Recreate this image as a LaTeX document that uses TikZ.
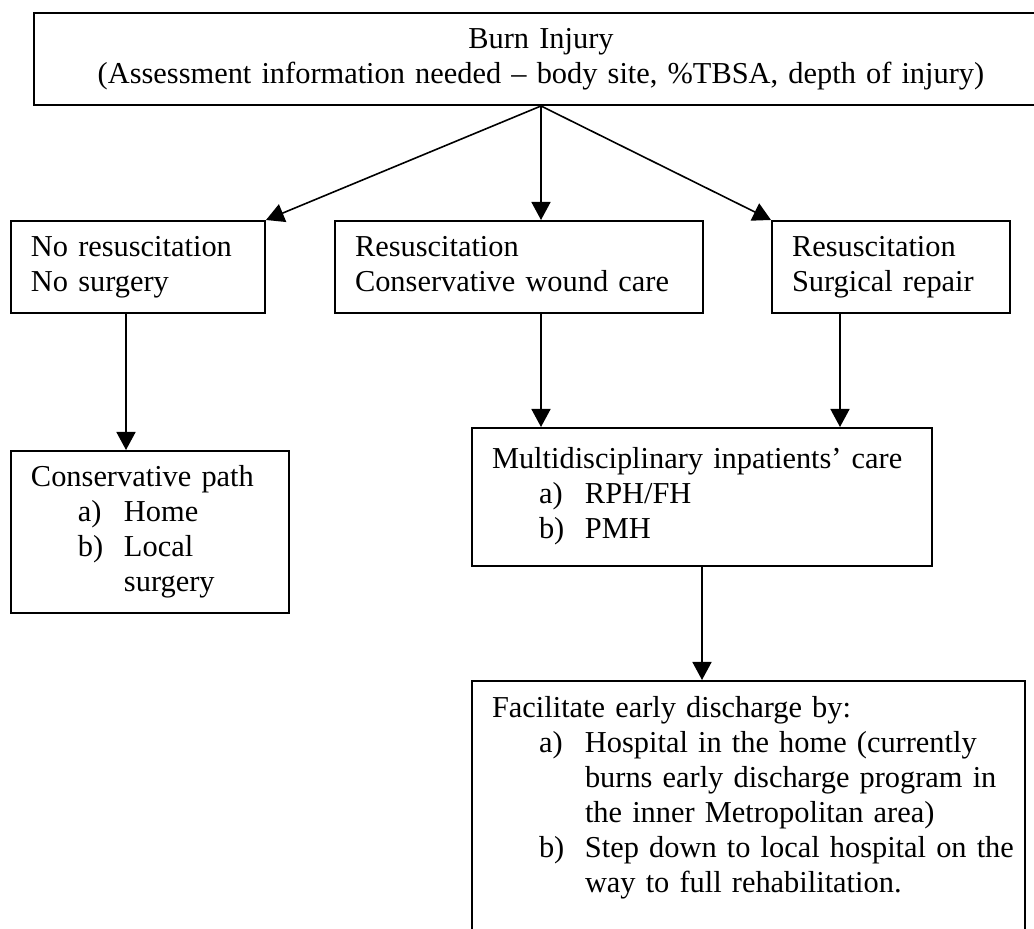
\documentclass[tikz,border=0pt]{standalone}
\usepackage{fontspec}
\setmainfont{Liberation Serif}
\usetikzlibrary{arrows.meta,positioning}

% list label and hanging indent inside the boxes
\newcommand{\lbl}[1]{\hspace*{23.5pt}\makebox[23pt][l]{#1}}
\newcommand{\cnt}{\hspace*{46.5pt}}

\begin{document}
\begin{tikzpicture}[x=0.5pt, y=-0.5pt, >={Triangle[length=9pt,width=9.5pt]},
  box/.style={draw, line width=1pt, anchor=north west, inner xsep=10pt, inner ysep=0pt,
    align=left, font=\fontsize{15.2pt}{17.5pt}\selectfont,
    execute at begin node={\strut\frenchspacing}, execute at end node=\strut},
  link/.style={->, line width=0.8pt}]

  \useasboundingbox (0,0) rectangle (1034,929);

  % === Top box ===
  \node[box, align=center, text width=487pt, minimum height=46pt] (burn) at (33,12)
    {Burn Injury\\(Assessment information needed – body site, \%TBSA, depth of injury)};

  % === Second row ===
  \node[box, text width=107pt, minimum height=46pt] (nores) at (10,220)
    {No resuscitation\\No surgery};
  \node[box, text width=164pt, minimum height=46pt] (cons) at (334,220)
    {Resuscitation\\Conservative wound care};
  \node[box, text width=99pt, minimum height=46pt] (surg) at (771,220)
    {Resuscitation\\Surgical repair};

  % === Third row ===
  \node[box, text width=119pt, minimum height=81pt] (conspath) at (10,450)
    {Conservative path\\\lbl{a)}Home\\\lbl{b)}Local\\\cnt surgery};
  \node[box, text width=210pt, minimum height=69pt] (multi) at (471,427)
    {Multidisciplinary inpatients’ care\\\lbl{a)}RPH/FH\\\lbl{b)}PMH};

  % === Bottom box (runs off the page) ===
  \node[box, text width=256.5pt, inner ysep=6.25pt, text depth=125pt] (disch) at (471,680)
    {Facilitate early discharge by:\\
     \lbl{a)}\mbox{Hospital in the home (currently}\\
     \cnt\mbox{burns early discharge program in}\\
     \cnt\mbox{the inner Metropolitan area)}\\
     \lbl{b)}\mbox{Step down to local hospital on the}\\
     \cnt\mbox{way to full rehabilitation.}};

  % === Arrows ===
  \coordinate (nsdrop) at ([xshift=58pt]nores.south west);
  \coordinate (sgdrop) at ([xshift=34.5pt]surg.south west);

  \draw[link] (burn.south) -- (nores.north east);
  \draw[link] (burn.south) -- (burn.south |- cons.north);
  \draw[link] (burn.south) -- (surg.north west);

  \draw[link] (nsdrop) -- (nsdrop |- conspath.north);
  \draw[link] (burn.south |- cons.south) -- (burn.south |- multi.north);
  \draw[link] (sgdrop) -- (sgdrop |- multi.north);
  \draw[link] (multi.south) -- (multi.south |- disch.north);

\end{tikzpicture}
\end{document}
